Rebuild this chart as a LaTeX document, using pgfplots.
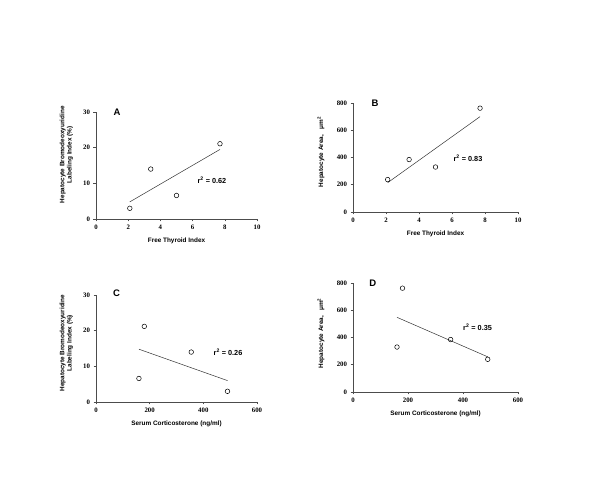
\documentclass[border=0pt]{standalone}
\usepackage{pgfplots}
\pgfplotsset{compat=1.18}
\usepackage{fontspec}
\setmainfont{Liberation Serif}
\setsansfont{Liberation Sans}
\tikzset{
  rlab/.style={font=\sffamily\bfseries\fontsize{7.3}{8}\selectfont},
  plab/.style={font=\sffamily\bfseries\fontsize{9.5}{10}\selectfont},
}
\begin{document}
\begin{tikzpicture}
\path[use as bounding box] (0pt,0pt) rectangle (600pt,478pt);
\pgfplotsset{
  panel/.style={
    scale only axis,
    axis lines=left,
    axis line style={-, gray!60!black, line width=0.6pt},
    tick style={gray!60!black, line width=0.6pt},
    tick align=outside,
    major tick length=2.5pt,
    xmin=0,
    ymin=0,
    clip=false,
    /pgf/number format/assume math mode=true,
    tick label style={font=\fontsize{6.8}{7}\selectfont\bfseries},
    label style={font=\sffamily\bfseries\fontsize{6.4}{7.4}\selectfont, align=center},
    xlabel style={at={(axis description cs:0.5,0)}, anchor=center, yshift=-22pt},
  },
  pts/.style={only marks, mark=o, mark size=2.3pt, mark options={black, line width=0.5pt}},
  fit/.style={no marks, black!80, line width=0.5pt},
}
% A
\begin{axis}[panel, at={(96pt,259pt)}, anchor=south west, width=161pt, height=107pt,
  xmax=10, ymax=30, xtick={0,2,4,6,8,10}, ytick={0,10,20,30},
  xlabel={Free Thyroid Index},
  ylabel style={at={(axis description cs:-0.184,0.6)}, anchor=center},
  ylabel={Hepatocyte Bromodeoxyuridine\\Labeling Index (\%)}]
\addplot[pts] coordinates {(2.1,3.0) (3.4,14.0) (5.0,6.6) (7.7,21.1)};
\addplot[fit] coordinates {(2.1,4.8) (7.7,19.5)};
\node[rlab] at (axis cs:7.2,11.0) {r\textsuperscript{2} = 0.62};
\node[plab] at (axis cs:1.3,29.8) {A};
\end{axis}
% B
\begin{axis}[panel, at={(353pt,266pt)}, anchor=south west, width=165pt, height=109pt,
  xmax=10, ymax=800, xtick={0,2,4,6,8,10}, ytick={0,200,400,600,800},
  xlabel={Free Thyroid Index},
  ylabel style={at={(axis description cs:-0.194,0.55)}, anchor=center},
  ylabel={Hepatocyte Area, \ \ μm\textsuperscript{2}}]
\addplot[pts] coordinates {(2.1,238) (3.4,385) (5.0,330) (7.7,762)};
\addplot[fit] coordinates {(2.1,215) (7.7,700)};
\node[rlab] at (axis cs:6.97,394) {r\textsuperscript{2} = 0.83};
\node[plab] at (axis cs:1.33,800) {B};
\end{axis}
% C
\begin{axis}[panel, at={(96pt,76pt)}, anchor=south west, width=161pt, height=107pt,
  xmax=600, ymax=30, xtick={0,200,400,600}, ytick={0,10,20,30},
  xlabel={Serum Corticosterone (ng/ml)},
  ylabel style={at={(axis description cs:-0.184,0.55)}, anchor=center},
  ylabel={Hepatocyte Bromodeoxyuridine\\Labeling Index (\%)}]
\addplot[pts] coordinates {(160,6.6) (180,21.2) (355,14.0) (490,3.0)};
\addplot[fit] coordinates {(160,14.8) (490,6.0)};
\node[rlab] at (axis cs:492,14.0) {r\textsuperscript{2} = 0.26};
\node[plab] at (axis cs:77,30.4) {C};
\end{axis}
% D
\begin{axis}[panel, at={(353pt,86pt)}, anchor=south west, width=165pt, height=109pt,
  xmax=600, ymax=800, xtick={0,200,400,600}, ytick={0,200,400,600,800},
  xlabel={Serum Corticosterone (ng/ml)},
  ylabel style={at={(axis description cs:-0.194,0.54)}, anchor=center},
  ylabel={Hepatocyte Area, \ \ μm\textsuperscript{2}}]
\addplot[pts] coordinates {(160,330) (180,762) (355,385) (490,240)};
\addplot[fit] coordinates {(160,548) (490,258)};
\node[rlab] at (axis cs:453,474) {r\textsuperscript{2} = 0.35};
\node[plab] at (axis cs:72,800) {D};
\end{axis}
\end{tikzpicture}
\end{document}
